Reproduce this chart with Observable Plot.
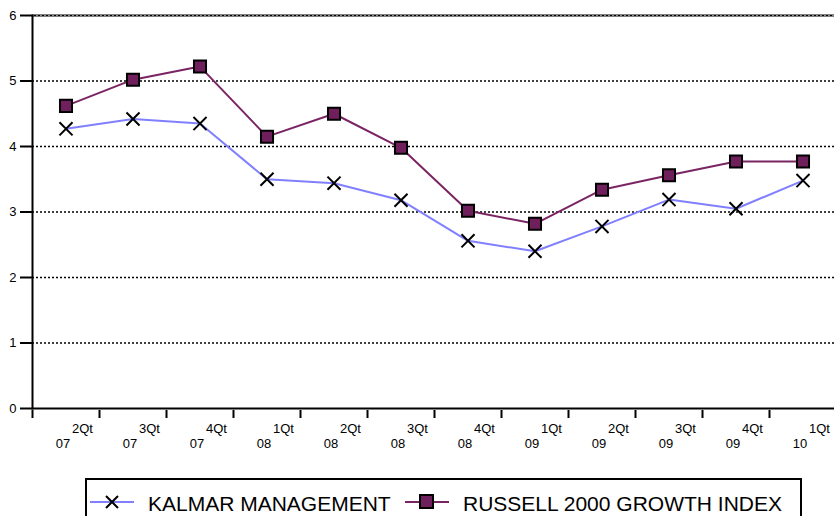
<!DOCTYPE html>
<html><head><meta charset="utf-8">
<script src="https://cdn.jsdelivr.net/npm/d3@7"></script>
<script src="https://cdn.jsdelivr.net/npm/@observablehq/plot@0.6"></script>
<style>
body{margin:0;background:#fff;font-family:"Liberation Sans",Arial,sans-serif;}
#wrap{position:relative;width:834px;height:516px;overflow:hidden;}
#chart svg{display:block;}
#legend{position:absolute;left:85px;top:478px;width:717px;height:60px;border:2px solid #000;box-sizing:border-box;background:#fff;}
.lg{position:absolute;font-size:21px;color:#000;white-space:nowrap;line-height:1;}
.sw{position:absolute;}
</style>
</head><body>
<div id="wrap"><div id="chart"></div>
<div id="legend"></div></div>
<script>
const quarters = ["2Qt 07","3Qt 07","4Qt 07","1Qt 08","2Qt 08","3Qt 08","4Qt 08","1Qt 09","2Qt 09","3Qt 09","4Qt 09","1Qt 10"];
const qLabels = ["2Qt","3Qt","4Qt","1Qt","2Qt","3Qt","4Qt","1Qt","2Qt","3Qt","4Qt","1Qt"];
const yrLabels = ["07","07","07","08","08","08","08","09","09","09","09","10"];
const kalmar = [4.27,4.42,4.35,3.50,3.44,3.18,2.56,2.40,2.78,3.19,3.05,3.48];
const russell = [4.62,5.02,5.22,4.15,4.50,3.98,3.02,2.82,3.34,3.56,3.77,3.77];
const yTicks = [0,1,2,3,4,5,6];
const seriesNames = ["KALMAR MANAGEMENT","RUSSELL 2000 GROWTH INDEX"];

const kColor = "#8080ff", rLine = "#7b2463", rFill = "#6e1f5c";
const data = quarters.map((q,i)=>({q, ql:qLabels[i], yl:yrLabels[i], kalmar:kalmar[i], russell:russell[i]}));
const step = (836-32)/quarters.length;

const chart = Plot.plot({
  width: 834, height: 470,
  marginLeft: 32, marginRight: 0, marginTop: 15, marginBottom: 62,
  style: {fontFamily: '"Liberation Sans", Arial, sans-serif', background: "#fff", overflow: "visible"},
  x: {type: "band", domain: quarters, range: [32, 836], padding: 0, round: false, axis: null},
  y: {domain: [0, 6], axis: null},
  marks: [
    Plot.ruleY([1,2,3,4,5], {stroke: "#000", strokeWidth: 1.5, strokeDasharray: "2,2"}),
    Plot.ruleY([6], {stroke: "#000", strokeWidth: 2}),
    Plot.ruleY([6], {stroke: "#888", strokeWidth: 1, strokeDasharray: "2,2"}),
    Plot.ruleY([0], {stroke: "#000", strokeWidth: 2}),
    Plot.frame({anchor: "left", stroke: "#000", strokeWidth: 2}),
    Plot.axisY(yTicks, {tickSize: 12, tickPadding: 4, fontSize: 13, strokeWidth: 2, stroke: "#000", color: "#000", tickFormat: d3.format("d")}),
    Plot.ruleX(quarters, {x: d => d, y1: 0, y2: 0, dx: -step/2, insetTop: 2, insetBottom: -10, stroke: "#000", strokeWidth: 2}),
    Plot.text(data, {x: "q", y: () => 0, text: "ql", dx: 27, dy: 20, textAnchor: "end", fontSize: 13, fill: "#000"}),
    Plot.text(data, {x: "q", y: () => 0, text: "yl", dx: -3, dy: 35, fontSize: 13, fill: "#000"}),
    Plot.line(data, {x: "q", y: "kalmar", stroke: kColor, strokeWidth: 2}),
    Plot.line(data, {x: "q", y: "russell", stroke: rLine, strokeWidth: 2}),
    Plot.dot(data, {x: "q", y: "kalmar", symbol: "times", r: 6, stroke: "#000", strokeWidth: 2}),
    Plot.dot(data, {x: "q", y: "russell", symbol: "square", r: 6.8, fill: rFill, stroke: "#000", strokeWidth: 2})
  ]
});
document.getElementById("chart").appendChild(chart);

const lg = document.getElementById("legend");
lg.innerHTML = `
<svg class="sw" style="left:3px;top:8px" width="44" height="28">
  <line x1="0" y1="14" x2="44" y2="14" stroke="${kColor}" stroke-width="2"/>
  <path d="M16,8L28,20M28,8L16,20" stroke="#000" stroke-width="2" fill="none"/>
</svg>
<div class="lg" style="left:61px;top:13px">${seriesNames[0]}</div>
<svg class="sw" style="left:318px;top:8px" width="44" height="28">
  <line x1="0" y1="14" x2="44" y2="14" stroke="${rLine}" stroke-width="2"/>
  <rect x="15" y="7" width="13" height="13" fill="${rFill}" stroke="#000" stroke-width="2"/>
</svg>
<div class="lg" style="left:376px;top:13px">${seriesNames[1]}</div>`;
</script>
</body></html>
